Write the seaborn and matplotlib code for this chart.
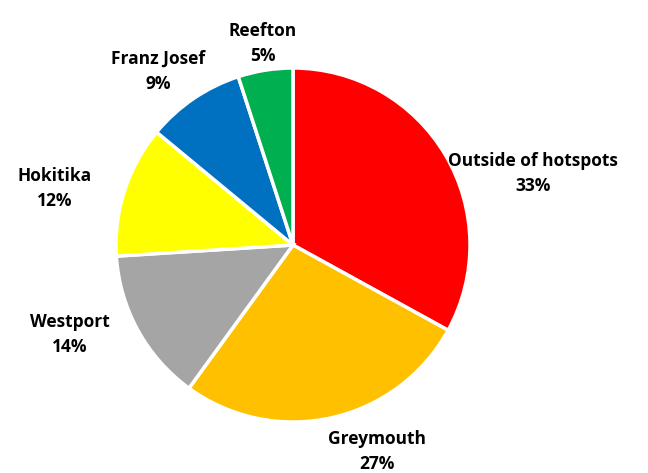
import matplotlib
matplotlib.use("Agg")
import matplotlib.pyplot as plt
import seaborn as sns

sns.set_theme(style="white")
plt.rcParams['font.family'] = ['Open Sans', 'DejaVu Sans']

categories = ["Outside of hotspots", "Greymouth", "Westport", "Hokitika", "Franz Josef", "Reefton"]
values = [33, 27, 14, 12, 9, 5]
colors = ["#FF0000", "#FFC000", "#A5A5A5", "#FFFF00", "#0070C0", "#00B050"]
label_pos = [(1.356, 0.405), (0.475, -1.165), (-1.26, -0.505), (-1.345, 0.322), (-0.763, 0.983), (-0.169, 1.14)]

W, H = 648, 473
fig = plt.figure(figsize=(W / 100, H / 100), dpi=100)
cx, cy, r = 293, 473 - 245, 177
ax = fig.add_axes([(cx - r) / W, (cy - r) / H, 2 * r / W, 2 * r / H])
ax.pie(values, colors=colors, startangle=90, counterclock=False, radius=1,
       wedgeprops=dict(edgecolor="white", linewidth=2.5))
ax.set_xlim(-1, 1)
ax.set_ylim(-1, 1)
ax.set_aspect("equal")
for cat, v, (x, y) in zip(categories, values, label_pos):
    ax.text(x, y, f"{cat}\n{v}%", ha="center", va="center", fontsize=12.5,
            fontweight="bold", color="black", linespacing=1.5, clip_on=False)

fig.savefig("out.png", dpi=100)
